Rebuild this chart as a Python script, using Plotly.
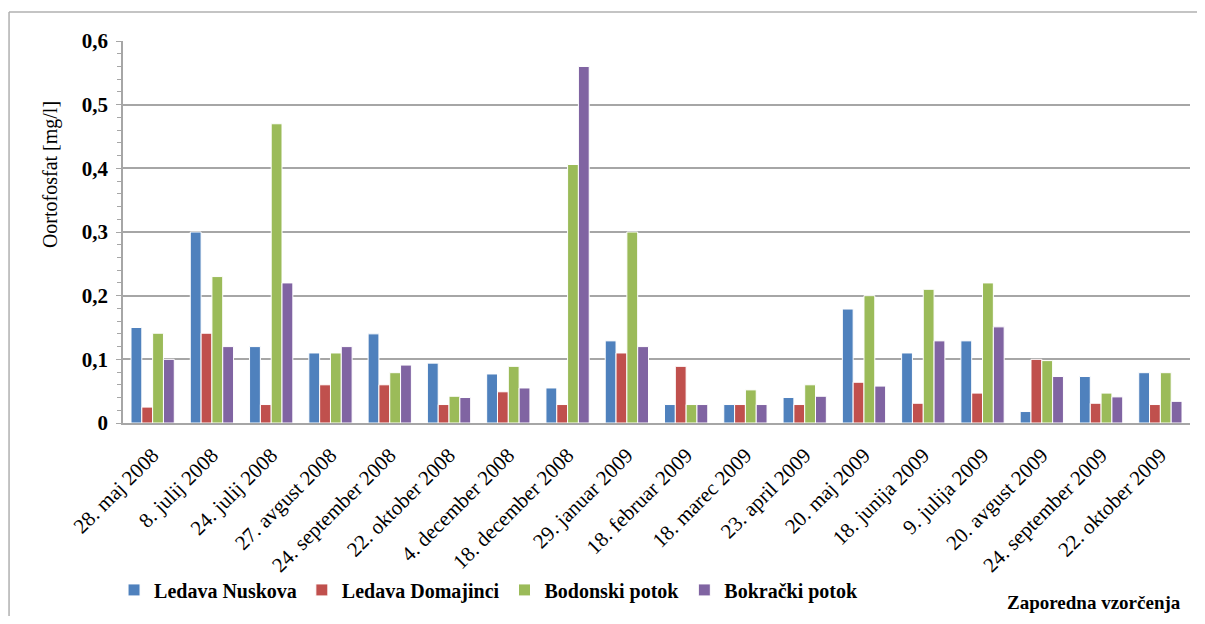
import plotly.graph_objects as go

dates = ["28. maj 2008", "8. julij 2008", "24. julij 2008", "27. avgust 2008",
         "24. september 2008", "22. oktober 2008", "4. december 2008",
         "18. december 2008", "29. januar 2009", "18. februar 2009",
         "18. marec 2009", "23. april 2009", "20. maj 2009", "18. junija 2009",
         "9. julija 2009", "20. avgust 2009", "24. september 2009",
         "22. oktober 2009"]

ledava_nuskova = [0.150, 0.300, 0.120, 0.110, 0.140, 0.094, 0.077, 0.055, 0.129,
                  0.029, 0.029, 0.040, 0.179, 0.110, 0.129, 0.018, 0.073, 0.079]
ledava_domajinci = [0.025, 0.141, 0.029, 0.060, 0.060, 0.029, 0.049, 0.029, 0.110,
                    0.089, 0.029, 0.029, 0.064, 0.031, 0.047, 0.100, 0.031, 0.029]
bodonski_potok = [0.141, 0.230, 0.470, 0.110, 0.079, 0.042, 0.089, 0.406, 0.300,
                  0.029, 0.052, 0.060, 0.200, 0.210, 0.220, 0.098, 0.047, 0.079]
bokracki_potok = [0.100, 0.120, 0.220, 0.120, 0.091, 0.040, 0.055, 0.560, 0.120,
                  0.029, 0.029, 0.042, 0.058, 0.129, 0.151, 0.073, 0.041, 0.034]

y_ticks = [0, 0.1, 0.2, 0.3, 0.4, 0.5, 0.6]
y_tick_labels = ["0", "0,1", "0,2", "0,3", "0,4", "0,5", "0,6"]

series = [
    ("Ledava Nuskova", ledava_nuskova, "#4F81BD"),
    ("Ledava Domajinci", ledava_domajinci, "#C0504D"),
    ("Bodonski potok", bodonski_potok, "#9BBB59"),
    ("Bokrački potok", bokracki_potok, "#8064A2"),
]

serif = "Liberation Serif, Times New Roman, serif"

fig = go.Figure()
for name, vals, color in series:
    fig.add_trace(go.Bar(x=dates, y=vals, name=name,
                         marker=dict(color=color, line=dict(color="white", width=1))))

# page body has an 8px margin, so the figure is a bit smaller than the window
fig.update_layout(
    width=1189, height=608,
    margin=dict(l=115, r=7, t=33, b=193),
    paper_bgcolor="white", plot_bgcolor="white",
    barmode="group", bargap=0.27, bargroupgap=0.0,
    font=dict(family=serif, color="black"),
    showlegend=True,
    legend=dict(orientation="h", x=-0.0084, xanchor="left", y=-0.437, yanchor="middle",
                font=dict(family=serif, size=20, color="black", weight="bold"),
                itemclick=False, bgcolor="rgba(0,0,0,0)"),
)

fig.update_yaxes(range=[0, 0.6], tickvals=y_ticks, ticktext=y_tick_labels,
                 tickfont=dict(family=serif, size=21, color="black", weight="bold"),
                 ticklabelstandoff=4,
                 showgrid=True, gridcolor="#a6a6a6", gridwidth=1.5,
                 showline=True, linecolor="#a6a6a6", linewidth=1.5,
                 ticks="outside", ticklen=5, tickcolor="#a6a6a6",
                 minor=dict(dtick=0.02, ticks="outside", ticklen=4, tickcolor="#a6a6a6",
                            showgrid=False),
                 zeroline=False)
fig.update_xaxes(tickangle=-45, tickfont=dict(family=serif, size=21, color="black"),
                 ticklabelstandoff=10,
                 showline=True, linecolor="#a6a6a6", linewidth=1.5, showgrid=False)

fig.add_annotation(text="Oortofosfat [mg/l]", textangle=-90, xref="paper", yref="paper",
                   x=-0.0684, y=0.649, xanchor="center", yanchor="middle", showarrow=False,
                   font=dict(family=serif, size=20, color="black"))
fig.add_annotation(text="<b>Zaporedna vzorčenja</b>", xref="paper", yref="paper",
                   x=0.9934, y=-0.471, xanchor="right", yanchor="middle", showarrow=False,
                   font=dict(family=serif, size=19, color="black"))

# outer frame of the chart: only the left and top sides show in the picture
frame = dict(color="#b0b0b0", width=1.5)
fig.add_shape(type="line", xref="paper", yref="paper",
              x0=-0.1068, x1=1.06, y0=1.076, y1=1.076, line=frame, layer="below")
fig.add_shape(type="line", xref="paper", yref="paper",
              x0=-0.1068, x1=-0.1068, y0=-0.6, y1=1.076, line=frame, layer="below")

fig.write_html("out.html")
